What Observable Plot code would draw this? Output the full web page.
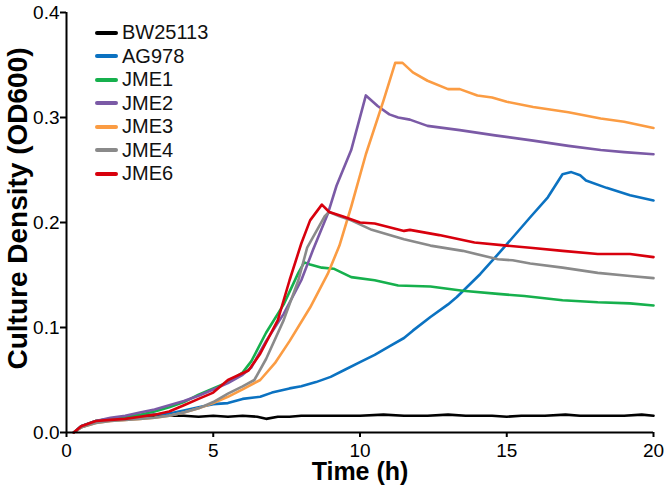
<!DOCTYPE html>
<html>
<head>
<meta charset="utf-8">
<script src="https://cdn.jsdelivr.net/npm/d3@7"></script>
<script src="https://cdn.jsdelivr.net/npm/@observablehq/plot@0.6"></script>
<style>
  body { margin: 0; background: #fff; font-family: "Liberation Sans", Arial, sans-serif; }
  #wrap { position: relative; width: 666px; height: 492px; }
  #legend { position: absolute; left: 95px; top: 21px; }
  .row { display: flex; align-items: center; height: 23.5px; font-size: 20px; color: #111; white-space: nowrap; }
  .sw { width: 23px; height: 4px; border-radius: 2px; margin-right: 4px; }
</style>
</head>
<body>
<div id="wrap"><div id="legend"></div></div>
<script>
// ---- data (time in h, OD600) ----
const strains = ["BW25113", "AG978", "JME1", "JME2", "JME3", "JME4", "JME6"];
const colors = ["#000000", "#0b72c1", "#16b04d", "#7b5aa6", "#fb9c43", "#8a8a8a", "#d8000d"];
const xTicks = [0, 5, 10, 15, 20];
const yTicks = [0, 0.1, 0.2, 0.3, 0.4];

const BW25113 = [[0.25,0],[0.5,0.005],[1,0.010],[1.5,0.012],[2,0.014],[2.5,0.015],[3,0.016],[3.5,0.016],[4,0.016],[4.5,0.015],[5,0.016],[5.5,0.015],[6,0.016],[6.5,0.015],[6.8,0.013],[7.2,0.015],[7.6,0.015],[8,0.016],[9,0.016],[10,0.016],[10.8,0.017],[11.5,0.016],[12.3,0.016],[13,0.017],[13.6,0.016],[14.5,0.016],[15,0.015],[15.5,0.016],[16.3,0.016],[17,0.017],[17.5,0.016],[18.3,0.016],[19,0.016],[19.6,0.017],[20,0.016]];
const AG978 = [[0.25,0],[0.5,0.006],[1,0.011],[1.5,0.013],[2,0.015],[2.5,0.016],[3,0.017],[3.5,0.018],[4,0.021],[4.5,0.024],[5,0.027],[5.5,0.028],[6,0.032],[6.6,0.034],[7,0.038],[7.6,0.042],[8,0.044],[8.5,0.048],[9,0.053],[9.5,0.060],[10,0.067],[10.5,0.074],[11,0.082],[11.5,0.090],[11.8,0.097],[12.4,0.110],[13,0.122],[13.3,0.129],[14.1,0.151],[14.9,0.176],[15.8,0.205],[16.4,0.224],[16.9,0.246],[17.2,0.248],[17.5,0.245],[17.7,0.240],[18.4,0.233],[19.2,0.226],[20,0.221]];
const JME1 = [[0.25,0],[0.5,0.006],[1,0.011],[1.5,0.013],[2,0.015],[2.5,0.017],[3,0.020],[3.5,0.024],[4,0.029],[4.5,0.036],[5,0.042],[5.5,0.048],[6,0.057],[6.3,0.068],[6.8,0.095],[7.4,0.122],[7.9,0.152],[8.1,0.162],[8.3,0.160],[8.7,0.157],[9.1,0.156],[9.7,0.148],[10.5,0.145],[11.3,0.140],[12.4,0.139],[13.5,0.135],[14.7,0.132],[15.6,0.130],[16.9,0.126],[18.1,0.124],[19.2,0.123],[20,0.121]];
const JME2 = [[0.25,0],[0.5,0.006],[1,0.011],[1.5,0.014],[2,0.016],[2.5,0.019],[3,0.022],[3.5,0.026],[4,0.030],[4.5,0.035],[5,0.041],[5.5,0.047],[6,0.055],[6.3,0.062],[6.8,0.087],[7.4,0.113],[8,0.145],[8.4,0.174],[8.9,0.208],[9.2,0.235],[9.7,0.269],[10.2,0.321],[10.6,0.311],[11,0.303],[11.3,0.300],[11.7,0.298],[12.3,0.292],[13.4,0.288],[14.6,0.283],[15.9,0.278],[17.1,0.273],[18.2,0.269],[19,0.267],[20,0.265]];
const JME3 = [[0.25,0],[0.5,0.005],[1,0.009],[1.5,0.011],[2,0.012],[2.5,0.013],[3,0.014],[3.5,0.016],[4,0.019],[4.5,0.023],[5,0.028],[5.5,0.034],[6,0.041],[6.6,0.050],[7.1,0.066],[7.6,0.087],[8.3,0.119],[8.9,0.151],[9.3,0.178],[9.7,0.215],[10.2,0.265],[10.8,0.316],[11.2,0.352],[11.45,0.352],[11.8,0.343],[12.3,0.335],[13,0.327],[13.4,0.327],[14,0.321],[14.5,0.319],[15,0.315],[15.9,0.310],[17.1,0.305],[18.2,0.299],[19,0.296],[20,0.290]];
const JME4 = [[0.25,0],[0.5,0.005],[1,0.009],[1.5,0.011],[2,0.012],[2.5,0.013],[3,0.014],[3.5,0.016],[4,0.019],[4.5,0.023],[5,0.029],[5.5,0.037],[6,0.044],[6.4,0.050],[6.8,0.070],[7.4,0.107],[7.9,0.145],[8.2,0.176],[8.4,0.186],[8.8,0.206],[8.95,0.210],[9.3,0.206],[9.7,0.202],[10.4,0.193],[11.5,0.184],[12.4,0.178],[13.5,0.173],[14.7,0.165],[15.2,0.164],[15.8,0.161],[16.9,0.157],[18.1,0.152],[19.2,0.149],[20,0.147]];
const JME6 = [[0.25,0],[0.5,0.006],[1,0.011],[1.5,0.012],[2,0.013],[2.5,0.015],[3,0.017],[3.5,0.020],[4,0.026],[4.5,0.032],[5,0.038],[5.5,0.050],[6.2,0.059],[6.6,0.075],[7.2,0.107],[7.6,0.145],[8,0.180],[8.3,0.202],[8.7,0.217],[8.95,0.210],[9.4,0.206],[10,0.200],[10.5,0.199],[11.5,0.192],[11.7,0.193],[12.7,0.188],[13.9,0.181],[15,0.178],[15.8,0.176],[16.9,0.173],[18.1,0.170],[19.2,0.170],[20,0.167]];

const seriesValues = [BW25113, AG978, JME1, JME2, JME3, JME4, JME6];
const rows = strains.flatMap((s, i) => seriesValues[i].map(([t, od]) => ({strain: s, t, od})));

const font = '"Liberation Sans", Arial, sans-serif';

const plot = Plot.plot({
  width: 666,
  height: 492,
  marginLeft: 66,
  marginRight: 13,
  marginTop: 12,
  marginBottom: 60,
  style: {fontFamily: font, fontSize: "19px", color: "#000", background: "#fff", overflow: "visible"},
  x: {domain: [0, 20]},
  y: {domain: [0, 0.4]},
  color: {domain: strains, range: colors},
  marks: [
    Plot.axisX({ticks: xTicks, tickSize: 5, tickPadding: 6, label: null, fontSize: 19, strokeWidth: 2}),
    Plot.axisY({ticks: yTicks, tickSize: 6, tickPadding: 1, tickFormat: ".1f", label: null, fontSize: 19, strokeWidth: 2}),
    Plot.line(rows, {x: "t", y: "od", z: "strain", stroke: "strain", strokeWidth: 2.6, strokeLinejoin: "round"}),
    Plot.ruleY([0], {stroke: "#000", strokeWidth: 2}),
    Plot.ruleX([0], {stroke: "#000", strokeWidth: 2}),
    Plot.text(["Time (h)"], {frameAnchor: "bottom", lineAnchor: "middle", textAnchor: "middle", dy: 39, fontSize: 25, fontWeight: "bold", fill: "#000"}),
    Plot.text(["Culture Density (OD600)"], {frameAnchor: "left", textAnchor: "middle", lineAnchor: "middle", dx: -48, dy: -14, rotate: -90, fontSize: 28, fontWeight: "bold", fill: "#000"})
  ]
});
const wrap = document.getElementById("wrap");
wrap.insertBefore(plot, wrap.firstChild);

const legend = document.getElementById("legend");
strains.forEach((s, i) => {
  const row = document.createElement("div");
  row.className = "row";
  const sw = document.createElement("span");
  sw.className = "sw";
  sw.style.background = colors[i];
  const label = document.createElement("span");
  label.textContent = s;
  row.appendChild(sw);
  row.appendChild(label);
  legend.appendChild(row);
});
</script>
</body>
</html>
